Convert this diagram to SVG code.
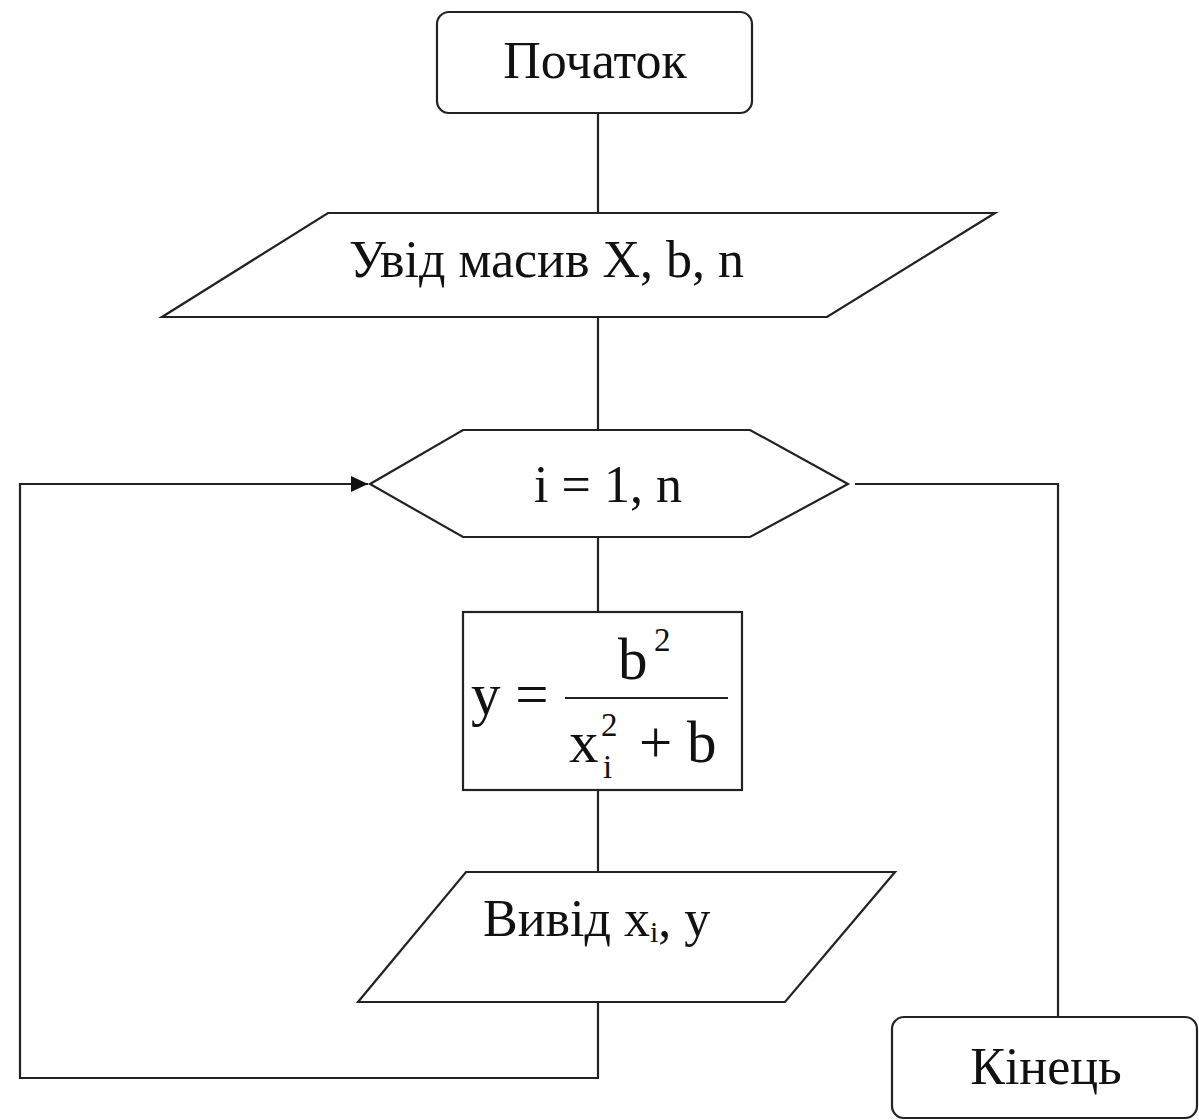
<svg xmlns="http://www.w3.org/2000/svg" width="1199" height="1120" viewBox="0 0 1199 1120">
<style>
  .shape { fill: #ffffff; stroke: #222222; stroke-width: 2.2; }
  .conn { fill: none; stroke: #222222; stroke-width: 2.2; }
  .t { font-family: "Liberation Serif", "Times New Roman", serif; fill: #111111; }
  .lbl { font-size: 52px; }
  .f { font-size: 59px; }
  .s { font-size: 33px; }
</style>
<defs>
  <marker id="arrow" markerWidth="18" markerHeight="16" refX="17" refY="8" orient="auto" markerUnits="userSpaceOnUse">
    <path d="M0,0 L17,8 L0,16 Z" fill="#111111"/>
  </marker>
</defs>
<rect width="1199" height="1120" fill="#ffffff"/>
<g id="connectors">
  <line class="conn" x1="598" y1="113" x2="598" y2="213"/>
  <line class="conn" x1="598" y1="317" x2="598" y2="430"/>
  <line class="conn" x1="598" y1="537" x2="598" y2="612"/>
  <line class="conn" x1="598" y1="790" x2="598" y2="872"/>
  <polyline class="conn" points="598,1002 598,1078 20,1078 20,484 368,484" marker-end="url(#arrow)"/>
  <polyline class="conn" points="855,484 1058,484 1058,1017"/>
</g>
<g id="start">
  <rect class="shape" x="437" y="12" width="315" height="101" rx="12" ry="12"/>
  <text class="t lbl" x="595" y="78" text-anchor="middle">Початок</text>
</g>
<g id="input">
  <polygon class="shape" points="328,213 995,213 827,317 162,317"/>
  <text class="t lbl" x="349" y="277">Увід масив X, b, n</text>
</g>
<g id="loop">
  <polygon class="shape" points="370,484 463,430 750,430 848,484 750,537 463,537"/>
  <text class="t lbl" x="608" y="502" text-anchor="middle">i = 1, n</text>
</g>
<g id="process">
  <rect class="shape" x="463" y="612" width="279" height="178"/>
  <text class="t f" x="471" y="714">y =</text>
  <text class="t f" x="618" y="679">b</text>
  <text class="t s" x="654" y="651">2</text>
  <line class="conn" x1="565" y1="698" x2="728" y2="698"/>
  <text class="t f" x="569" y="762">x</text>
  <text class="t s" x="601" y="736">2</text>
  <text class="t s" x="603" y="778">i</text>
  <text class="t f" x="639" y="762">+ b</text>
</g>
<g id="output">
  <polygon class="shape" points="466,872 895,872 785,1002 358,1002"/>
  <text class="t lbl" x="483" y="936">Вивід x<tspan font-size="30" dy="6">i</tspan><tspan dy="-6">, y</tspan></text>
</g>
<g id="end">
  <rect class="shape" x="892" y="1017" width="305" height="101" rx="12" ry="12"/>
  <text class="t lbl" x="1046" y="1084" text-anchor="middle">Кінець</text>
</g>
</svg>
